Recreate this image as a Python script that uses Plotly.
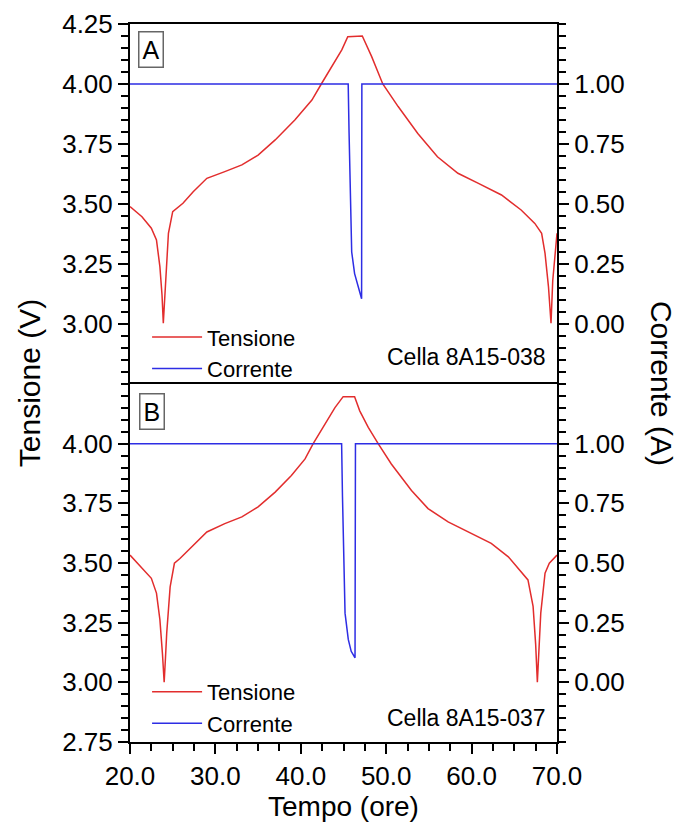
import plotly.graph_objects as go
import numpy as np

# ---------------- data ----------------
# Panel A (Cella 8A15-038)
t_A = [20.0, 21.4, 22.5, 23.1, 23.5, 23.75, 23.9, 24.05, 24.17, 24.5, 25.0, 26.2, 27.4, 29.0,
       31.1, 33.1, 35.0, 37.0, 39.3, 41.3, 42.4, 43.6, 44.8, 45.5, 47.2, 48.3, 49.6, 51.4,
       53.7, 56.0, 58.4, 60.8, 63.5, 65.8, 67.4, 68.2, 68.6, 69.0, 69.3, 69.5, 69.8, 70.0]
v_A = [3.489, 3.447, 3.399, 3.35, 3.239, 3.12, 3.003, 3.10, 3.21, 3.378, 3.468, 3.503, 3.551,
       3.607, 3.635, 3.663, 3.704, 3.767, 3.85, 3.933, 4.00, 4.072, 4.142, 4.197, 4.20,
       4.114, 4.00, 3.906, 3.794, 3.697, 3.628, 3.586, 3.5375, 3.475, 3.419, 3.378, 3.294,
       3.156, 3.003, 3.18, 3.32, 3.378]
tc_A = [20.0, 45.55, 45.65, 45.76, 45.96, 46.3, 46.73, 47.12, 47.15, 70.0]
i_A = [1.0, 1.0, 0.80, 0.57, 0.30, 0.21, 0.155, 0.105, 1.0, 1.0]

# Panel B (Cella 8A15-037)
t_B = [20.0, 21.4, 22.5, 23.1, 23.5, 23.8, 24.0, 24.15, 24.3, 24.7, 25.2, 25.85, 27.2, 29.0,
       31.1, 33.1, 35.0, 37.0, 38.9, 40.5, 41.45, 42.8, 44.0, 44.96, 46.3, 46.9, 47.9, 49.06,
       50.6, 52.96, 54.9, 57.25, 60.0, 62.3, 64.3, 66.0, 66.6, 67.2, 67.5, 67.7, 67.9, 68.1,
       68.6, 69.1, 70.0]
v_B = [3.533, 3.478, 3.436, 3.374, 3.2625, 3.12, 3.001, 3.10, 3.207, 3.40, 3.499, 3.519,
       3.568, 3.63, 3.665, 3.693, 3.735, 3.797, 3.867, 3.936, 4.00, 4.082, 4.151, 4.197,
       4.197, 4.1375, 4.068, 4.00, 3.915, 3.804, 3.728, 3.672, 3.624, 3.582, 3.526, 3.457,
       3.429, 3.318, 3.16, 3.001, 3.15, 3.29, 3.457, 3.499, 3.533]
tc_B = [20.0, 44.78, 44.88, 44.98, 45.18, 45.56, 45.9, 46.35, 46.4, 70.0]
i_B = [1.0, 1.0, 0.78, 0.57, 0.29, 0.18, 0.13, 0.103, 1.0, 1.0]

v_ticks_A = [3.00, 3.25, 3.50, 3.75, 4.00, 4.25]
v_ticks_B = [2.75, 3.00, 3.25, 3.50, 3.75, 4.00]
i_ticks = [0.00, 0.25, 0.50, 0.75, 1.00]
t_ticks = [20.0, 30.0, 40.0, 50.0, 60.0, 70.0]

RED = "rgb(226,45,45)"
BLUE = "rgb(45,45,228)"
FONT = "Arial, Liberation Sans, sans-serif"

fig = go.Figure()

fig.add_trace(go.Scatter(x=t_A, y=v_A, mode="lines", name="Tensione",
                         line=dict(color=RED, width=1.5), xaxis="x", yaxis="y", legend="legend"))
fig.add_trace(go.Scatter(x=tc_A, y=i_A, mode="lines", name="Corrente",
                         line=dict(color=BLUE, width=1.5), xaxis="x", yaxis="y2", legend="legend"))
fig.add_trace(go.Scatter(x=t_B, y=v_B, mode="lines", name="Tensione",
                         line=dict(color=RED, width=1.5), xaxis="x2", yaxis="y3", legend="legend2"))
fig.add_trace(go.Scatter(x=tc_B, y=i_B, mode="lines", name="Corrente",
                         line=dict(color=BLUE, width=1.5), xaxis="x2", yaxis="y4", legend="legend2"))

v_minor = [round(v, 2) for v in np.arange(2.75, 4.2501, 0.05)]
i_minor = [round(v, 2) for v in np.arange(-0.25, 1.2501, 0.05)]
t_minor = [float(v) for v in np.arange(20.0, 70.01, 2.5)]

axis_common = dict(showline=True, linecolor="black", linewidth=2, showgrid=False,
                   zeroline=False, ticks="outside", tickcolor="black", tickwidth=2,
                   ticklen=10, automargin=False, tickmode="array",
                   tickfont=dict(family=FONT, size=26, color="black"))


def minor(vals):
    return dict(tickmode="array", tickvals=vals, ticks="outside", ticklen=7, tickwidth=2,
                tickcolor="black", showgrid=False)


# page has an 8px body margin: figure is shifted accordingly
W, H = 676, 818
split = 0.4986
fig.update_layout(
    template="simple_white",
    width=W, height=H,
    margin=dict(l=122, r=127, t=16, b=84),
    paper_bgcolor="white", plot_bgcolor="white",
    font=dict(family=FONT, color="black"),
    showlegend=True,
    xaxis=dict(domain=[0, 1], anchor="y", side="top", range=[20, 70], showline=True,
               linecolor="black", linewidth=2, mirror=False, showgrid=False, zeroline=False,
               ticks="", showticklabels=False, automargin=False),
    xaxis2=dict(domain=[0, 1], anchor="y3", range=[20, 70], tickvals=t_ticks, tickformat=".1f",
                minor=minor(t_minor), mirror=True, **axis_common),
    yaxis=dict(domain=[split, 1], anchor="x", range=[2.75, 4.25], tickvals=v_ticks_A,
               tickformat=".2f", minor=minor(v_minor), **axis_common),
    yaxis2=dict(domain=[split, 1], anchor="x", overlaying="y", side="right",
                range=[-0.25, 1.25], tickvals=i_ticks, tickformat=".2f", minor=minor(i_minor),
                **axis_common),
    yaxis3=dict(domain=[0, split], anchor="x2", range=[2.75, 4.25], tickvals=v_ticks_B,
                tickformat=".2f", minor=minor(v_minor), **axis_common),
    yaxis4=dict(domain=[0, split], anchor="x2", overlaying="y3", side="right",
                range=[-0.25, 1.25], tickvals=i_ticks, tickformat=".2f", minor=minor(i_minor),
                **axis_common),
    legend=dict(x=0.04, y=0.49, xanchor="left", yanchor="bottom", bgcolor="rgba(0,0,0,0)",
                font=dict(family=FONT, size=22, color="black"), tracegroupgap=0,
                itemwidth=50),
    legend2=dict(x=0.04, y=-0.004, xanchor="left", yanchor="bottom", bgcolor="rgba(0,0,0,0)",
                 font=dict(family=FONT, size=22, color="black"), tracegroupgap=0,
                 itemwidth=50),
)

annots = [
    dict(text="A", x=0.049, y=0.9645, xref="paper", yref="paper", xanchor="center",
         yanchor="middle", showarrow=False, font=dict(family=FONT, size=25, color="black"),
         bordercolor="#666", borderwidth=1.5, borderpad=3),
    dict(text="B", x=0.051, y=0.461, xref="paper", yref="paper", xanchor="center",
         yanchor="middle", showarrow=False, font=dict(family=FONT, size=25, color="black"),
         bordercolor="#666", borderwidth=1.5, borderpad=3),
    dict(text="Cella 8A15-038", x=0.979, y=0.536, xref="paper", yref="paper", xanchor="right",
         yanchor="middle", showarrow=False, font=dict(family=FONT, size=23, color="black")),
    dict(text="Cella 8A15-037", x=0.979, y=0.033, xref="paper", yref="paper", xanchor="right",
         yanchor="middle", showarrow=False, font=dict(family=FONT, size=23, color="black")),
    dict(text="Tensione (V)", x=-0.236, y=0.5, xref="paper", yref="paper", textangle=-90,
         xanchor="center", yanchor="middle", showarrow=False,
         font=dict(family=FONT, size=30, color="black")),
    dict(text="Corrente (A)", x=1.246, y=0.5, xref="paper", yref="paper", textangle=90,
         xanchor="center", yanchor="middle", showarrow=False,
         font=dict(family=FONT, size=30, color="black")),
    dict(text="Tempo (ore)", x=0.5, y=-0.0895, xref="paper", yref="paper",
         xanchor="center", yanchor="middle", showarrow=False,
         font=dict(family=FONT, size=28, color="black")),
]
fig.update_layout(annotations=annots)

fig.write_html("out.html")
